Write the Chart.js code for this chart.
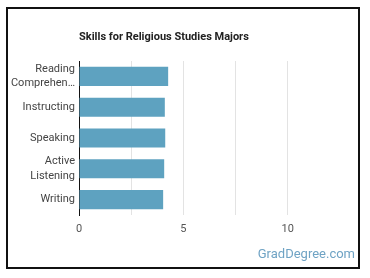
<!DOCTYPE html>
<html>
<head>
<meta charset="utf-8">
<script src="https://cdn.jsdelivr.net/npm/chart.js@4.4.0/dist/chart.umd.min.js"></script>
<style>
  html, body { margin: 0; padding: 0; background: #fff; }
  #wrap { position: relative; width: 370px; height: 278px; }
  #frame { position: absolute; left: 6px; top: 7px; width: 350px; height: 258px; border: 2px solid #111; pointer-events: none; }
  canvas { position: absolute; left: 0; top: 0; }
</style>
</head>
<body>
<div id="wrap">
  <canvas id="skills" width="370" height="278"></canvas>
  <div id="frame"></div>
</div>
<script>
// chart data
const chartTitle = 'Skills for Religious Studies Majors';
const skills = [['Reading', 'Comprehen…'], 'Instructing', 'Speaking', ['Active', 'Listening'], 'Writing'];
const scores = [4.27, 4.11, 4.13, 4.08, 4.03];
const tickLabels = [0, 5, 10];

// title drawn at the left edge of the plot, like the original
const titlePlugin = {
    id: 'leftTitle',
    afterDraw(chart) {
        const c = chart.ctx;
        c.save();
        c.font = 'bold 11px Roboto';
        c.fillStyle = '#222';
        c.textBaseline = 'middle';
        c.fillText(chartTitle, chart.chartArea.left, 37);
        // watermark
        c.font = '13px Roboto';
        c.fillStyle = '#6fa3c4';
        c.textAlign = 'right';
        c.fillText('GradDegree.com', 355, 255);
        c.restore();
    }
};

const ctx = document.getElementById('skills').getContext('2d');
const chart = new Chart(ctx, {
    type: 'bar',
    data: {
        labels: skills,
        datasets: [{
            data: scores,
            backgroundColor: '#5ea2c0',
            borderWidth: 0,
            barPercentage: 0.62,
            categoryPercentage: 1
        }]
    },
    options: {
        indexAxis: 'y',
        responsive: false,
        animation: false,
        layout: { padding: { left: 0, right: 30, top: 61, bottom: 43 } },
        plugins: {
            legend: { display: false },
            tooltip: { enabled: false }
        },
        scales: {
            x: {
                min: 0,
                max: 12.5,
                afterFit: function(scale) { scale.height = 20; },
                border: { display: false },
                grid: {
                    drawTicks: false,
                    color: function(c) {
                        const v = c.tick ? c.tick.value : null;
                        if (v === 0 || v === 12.5) return 'rgba(0,0,0,0)';
                        return '#e3e3e3';
                    }
                },
                ticks: {
                    stepSize: 2.5,
                    padding: 8,
                    autoSkip: false,
                    maxRotation: 0,
                    color: '#555',
                    font: { family: 'Roboto', size: 11 },
                    callback: function(v) { return tickLabels.includes(v) ? String(v) : ''; }
                }
            },
            y: {
                afterFit: function(scale) { scale.width = 79; },
                border: { display: true, color: '#111', width: 1 },
                grid: { display: false, drawTicks: false },
                ticks: {
                    autoSkip: false,
                    padding: 4,
                    color: '#444',
                    font: { family: 'Roboto', size: 11, lineHeight: 1.3 }
                }
            }
        }
    },
    plugins: [titlePlugin]
});
</script>
</body>
</html>
